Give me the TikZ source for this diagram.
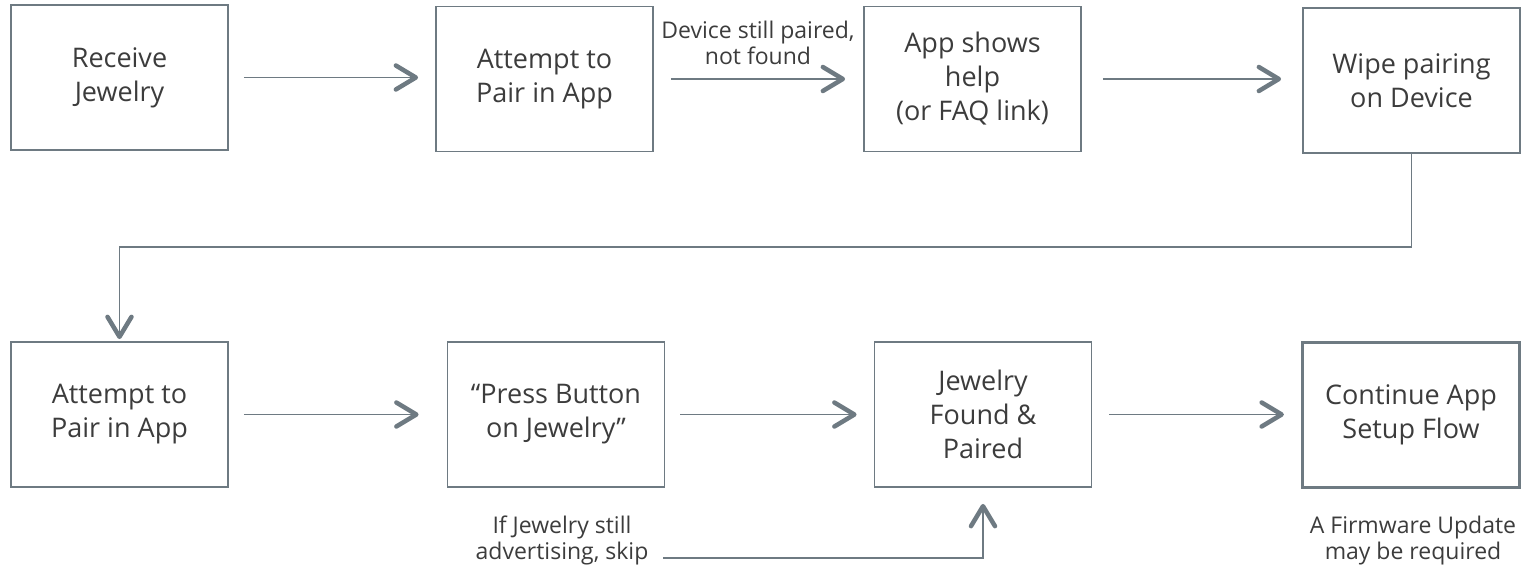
\documentclass[tikz,border=0pt]{standalone}
\usepackage{fontspec}
\setmainfont{Open Sans}
\usetikzlibrary{arrows.meta}
\definecolor{linegray}{HTML}{6E7A82}
\definecolor{textgray}{HTML}{3C3C3C}
\begin{document}
\begin{tikzpicture}[x=1pt,y=-1pt,
  stepbox/.style={draw=linegray, line width=1.8pt, minimum width=217pt, minimum height=145pt,
    inner sep=0pt, align=center, text=textgray, font=\fontsize{27}{34}\selectfont},
  note/.style={align=center, text=textgray, font=\fontsize{23}{26}\selectfont, inner sep=0pt},
  conn/.style={draw=linegray, line width=1.8pt,
    -{Straight Barb[length=20pt,width=24pt,line width=4.5pt,round]}},
]
\useasboundingbox (0,0) rectangle (1522,568);

% first row
\node[stepbox] (b1) at (119.5,77.5) {Receive\\Jewelry};
\node[stepbox] (b2) at (544.5,79) {Attempt to\\Pair in App};
\node[stepbox] (b3) at (972.5,79) {App shows\\help\\(or FAQ link)};
\node[stepbox] (b4) at (1411.5,80.5) {Wipe pairing\\on Device};

% second row
\node[stepbox] (b5) at (119.5,414.5) {Attempt to\\Pair in App};
\node[stepbox] (b6) at (556,414.5) {“Press Button\\on Jewelry”};
\node[stepbox] (b7) at (983,414.5) {Jewelry\\Found \&\\Paired};
\node[stepbox, line width=3.2pt] (b8) at (1411,415) {Continue App\\Setup Flow};

% side notes
\node[note] (lbl) at (758,43) {Device still paired,\\not found};
\node[note] (skip) at (562,540) {If Jewelry still\\advertising, skip};
\node[note] (fw) at (1413,541) {A Firmware Update\\may be required};
\coordinate (skipstart) at (663,558);
\coordinate (bend) at (700,247);

% connectors
\draw[conn, shorten <=15pt, shorten >=17pt] (b1.east) -- (b1.east -| b2.west);
\draw[conn, shorten <=17pt, shorten >=18pt] (b2.east) -- (b2.east -| b3.west);
\draw[conn, shorten <=21pt, shorten >=21pt] (b3.east) -- (b3.east -| b4.west);
\draw[conn, shorten >=2pt] (b4.south) |- (bend) -| (b5.north);
\draw[conn, shorten <=15pt, shorten >=28pt] (b5.east) -- (b5.east -| b6.west);
\draw[conn, shorten <=15pt, shorten >=17pt] (b6.east) -- (b6.east -| b7.west);
\draw[conn, shorten <=17pt, shorten >=17pt] (b7.east) -- (b7.east -| b8.west);
\draw[conn, shorten >=16pt] (skipstart) -| (b7.south);
\end{tikzpicture}
\end{document}
